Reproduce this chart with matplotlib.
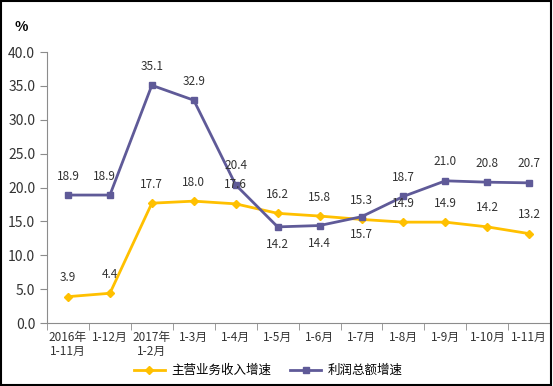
import numpy as np
import matplotlib
matplotlib.use("Agg")
import matplotlib.pyplot as plt
from matplotlib.patches import Rectangle

plt.rcParams['font.family'] = ['Noto Sans CJK SC', 'DejaVu Sans']

# --- data ---
categories = ['2016年\n1-11月', '1-12月', '2017年\n1-2月', '1-3月', '1-4月', '1-5月',
              '1-6月', '1-7月', '1-8月', '1-9月', '1-10月', '1-11月']
revenue = [3.9, 4.4, 17.7, 18.0, 17.6, 16.2, 15.8, 15.3, 14.9, 14.9, 14.2, 13.2]
profit = [18.9, 18.9, 35.1, 32.9, 20.4, 14.2, 14.4, 15.7, 18.7, 21.0, 20.8, 20.7]
revenue_name = '主营业务收入增速'
profit_name = '利润总额增速'
yticks = [0, 5, 10, 15, 20, 25, 30, 35, 40]

yellow = '#FFC000'
purple = '#5F5A98'
grey = '#8C8C8C'

fig = plt.figure(figsize=(5.53, 3.86), dpi=100)
ax = fig.add_axes([0.085, 0.163, 0.91, 0.702])

x = np.arange(len(categories))
ax.plot(x, revenue, color=yellow, lw=2, marker='D', ms=4, label=revenue_name)
ax.plot(x, profit, color=purple, lw=2, marker='s', ms=5, label=profit_name)

# data labels
for i, v in enumerate(revenue):
    ax.annotate(f'{v:.1f}', (i, v), xytext=(0, 9), textcoords='offset points',
                ha='center', va='bottom', fontsize=8.5, color='#333333')
below = {5, 6, 7}
for i, v in enumerate(profit):
    if i in below:
        ax.annotate(f'{v:.1f}', (i, v), xytext=(0, -8), textcoords='offset points',
                    ha='center', va='top', fontsize=8.5, color='#333333')
    else:
        dx = -4 if i == 1 else 0
        ax.annotate(f'{v:.1f}', (i, v), xytext=(dx, 9), textcoords='offset points',
                    ha='center', va='bottom', fontsize=8.5, color='#333333')

ax.set_xlim(-0.5, len(categories) - 0.5)
ax.set_ylim(0, 40)
ax.set_yticks(yticks)
ax.set_yticklabels([f'{t:.1f}' for t in yticks], fontsize=10, color='#333333')
ax.set_xticks(x)
ax.set_xticklabels(categories, fontsize=8.5, color='#333333', linespacing=1.1)
ax.set_xticks(np.arange(-0.5, len(categories)), minor=True)
ax.tick_params(axis='x', which='major', length=0, pad=6)
ax.tick_params(axis='x', which='minor', length=5, color=grey, direction='out')
ax.tick_params(axis='y', length=5, color=grey, direction='out')

for s in ['top', 'right']:
    ax.spines[s].set_visible(False)
for s in ['left', 'bottom']:
    ax.spines[s].set_color(grey)

fig.text(0.027, 0.93, '%', fontsize=10, fontweight='bold', ha='left', va='center')

fig.legend(loc='center', bbox_to_anchor=(0.485, 0.04), ncol=2, frameon=False,
           fontsize=9, handlelength=2.5, columnspacing=1.5, handletextpad=0.5)

fig.add_artist(Rectangle((0.002, 0.003), 0.995, 0.994, transform=fig.transFigure,
                         fill=False, edgecolor='black', lw=1.5))

fig.savefig('out.png', dpi=100)
